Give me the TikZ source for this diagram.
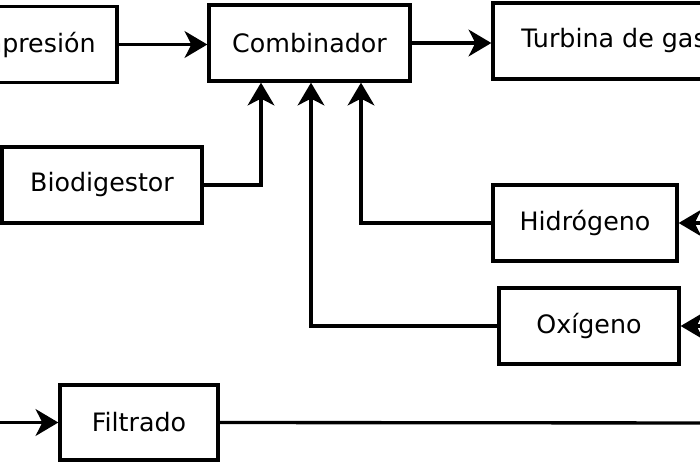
\documentclass[tikz,border=0pt]{standalone}
\usepackage{fontspec}
\setmainfont{DejaVu Sans}
\usetikzlibrary{arrows.meta,calc}
\begin{document}
\begin{tikzpicture}[x=0.75pt,y=-0.75pt,
  box/.style={draw=black,line width=2.5pt,fill=white,rectangle,inner sep=0pt,
    minimum height=57pt,font=\fontsize{19}{23}\selectfont},
  arr/.style={line width=2.5pt,-{Stealth[length=17pt,width=20pt,inset=5pt]}},
  ln/.style={line width=2.5pt}]
\useasboundingbox (0,0) rectangle (700,465);
\clip (0,0) rectangle (700,465);
\fill[white] (0,0) rectangle (700,465);
\node[box,minimum width=145.5pt] (comp) at (20,44.5) {Compresión};
\node[box,minimum width=150.75pt] (comb) at (309.5,43) {Combinador};
\node[box,minimum width=181.5pt] (turb) at (614,41) {Turbina de gas};
\node[box,minimum width=150pt] (bio) at (102,185) {Biodigestor};
\node[box,minimum width=138pt] (hid) at (585,223) {Hidrógeno};
\node[box,minimum width=135pt] (oxi) at (589,326) {Oxígeno};
\node[box,minimum width=118.5pt,minimum height=56.25pt] (fil) at (139,422.5) {Filtrado};
\coordinate (hidin) at (730,223);
\coordinate (oxiin) at (730,326);
\coordinate (filin) at (-30,422.5);
\coordinate (filout) at (730,423);
\draw[arr] (comp.east) -- (comp.east -| comb.west);
\draw[arr] (comb.east) -- (comb.east -| turb.west);
\draw[arr] (bio.east) -| ($(comb.south)+(-48.5,0)$);
\draw[arr] (oxi.west) -| ($(comb.south)+(1.5,0)$);
\draw[arr] (hid.west) -| ($(comb.south)+(51.5,0)$);
\draw[arr] (hidin) -- (hid.east);
\draw[arr] (oxiin) -- (oxi.east);
\draw[arr] (filin) -- (fil.west);
\draw[ln] (fil.east) -- (filout);
\end{tikzpicture}
\end{document}
